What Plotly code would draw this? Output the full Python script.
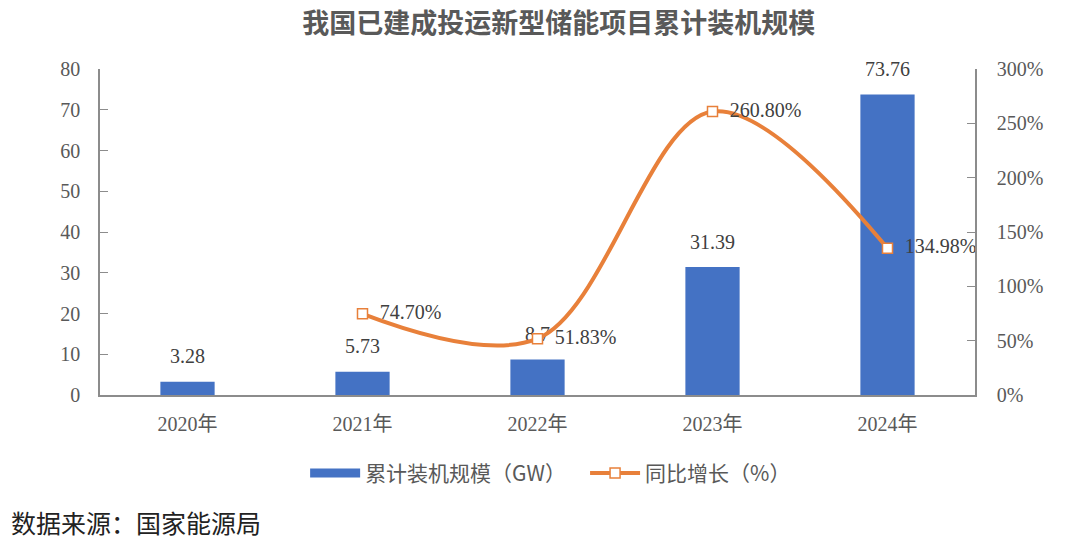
import plotly.graph_objects as go

# 数据
years = ["2020年", "2021年", "2022年", "2023年", "2024年"]
capacity_gw = [3.28, 5.73, 8.7, 31.39, 73.76]
capacity_labels = ["3.28", "5.73", "8.7", "31.39", "73.76"]

growth_years = ["2021年", "2022年", "2023年", "2024年"]
growth_pct = [74.70, 51.83, 260.80, 134.98]
growth_labels = ["74.70%", "51.83%", "260.80%", "134.98%"]

left_ticks = [0, 10, 20, 30, 40, 50, 60, 70, 80]
right_ticks = [0, 50, 100, 150, 200, 250, 300]
right_tick_labels = ["0%", "50%", "100%", "150%", "200%", "250%", "300%"]

BAR_COLOR = "#4472C4"
LINE_COLOR = "#E8803A"
AXIS_COLOR = "#8C8C8C"
TEXT_COLOR = "#595959"
SERIF = "Liberation Serif, Noto Sans CJK SC, serif"
CJK = "Noto Sans CJK SC"

fig = go.Figure()

# bars (legend handled by a dummy entry so the swatch is a wide bar)
fig.add_trace(go.Bar(
    x=years, y=capacity_gw, name="累计装机规模（GW）", showlegend=False,
    marker=dict(color=BAR_COLOR, line=dict(width=0)),
))
# bar value labels, lifted above bar tops
fig.add_trace(go.Scatter(
    x=years, y=capacity_gw, mode="markers+text", showlegend=False, hoverinfo="skip",
    marker=dict(size=20, opacity=0),
    text=capacity_labels, textposition="top center", cliponaxis=False,
    textfont=dict(family=SERIF, size=20, color="#404040"),
))

fig.add_trace(go.Scatter(
    x=[None], y=[None], mode="lines", name="累计装机规模（GW）   ",
    line=dict(color=BAR_COLOR, width=9),
))

fig.add_trace(go.Scatter(
    x=growth_years, y=growth_pct, name="同比增长（%）", yaxis="y2",
    mode="lines+markers+text",
    line=dict(color=LINE_COLOR, width=4, shape="spline", smoothing=1),
    marker=dict(symbol="square", size=10, color="white",
                line=dict(color=LINE_COLOR, width=1.5)),
    text=["  " + t for t in growth_labels], textposition="middle right",
    textfont=dict(family=SERIF, size=20, color="#404040"),
    cliponaxis=False,
))

fig.update_layout(
    width=1080, height=546,
    paper_bgcolor="white", plot_bgcolor="white",
    margin=dict(l=92, r=113, t=61, b=159),
    bargap=0.69,
    showlegend=True,
    legend=dict(orientation="h", x=0.515, xanchor="center", y=-0.24, yanchor="middle",
                font=dict(family=CJK, size=21, color=TEXT_COLOR),
                itemwidth=50),
    title=dict(text="<b>我国已建成投运新型储能项目累计装机规模</b>",
               x=0.51, xanchor="center", y=0.972, yanchor="middle",
               font=dict(family=CJK, size=27, color=TEXT_COLOR)),
    xaxis=dict(
        type="category", showline=True, linecolor=AXIS_COLOR, linewidth=1.5,
        ticks="", showgrid=False, ticklabelstandoff=10,
        tickfont=dict(family=SERIF, size=20, color=TEXT_COLOR),
    ),
    yaxis=dict(
        range=[0, 80], tickvals=left_ticks, showgrid=False, zeroline=False,
        showline=True, linecolor=AXIS_COLOR, linewidth=1.5,
        ticks="inside", ticklen=8, tickcolor=AXIS_COLOR,
        tickfont=dict(family=SERIF, size=20, color=TEXT_COLOR),
        ticklabelstandoff=14,
    ),
    yaxis2=dict(
        range=[0, 300], tickvals=right_ticks, ticktext=right_tick_labels,
        overlaying="y", side="right", showgrid=False, zeroline=False,
        showline=True, linecolor=AXIS_COLOR, linewidth=1.5,
        ticks="inside", ticklen=8, tickcolor=AXIS_COLOR,
        tickfont=dict(family=SERIF, size=20, color=TEXT_COLOR),
        ticklabelstandoff=16,
    ),
)

fig.add_annotation(
    text="数据来源：国家能源局", xref="paper", yref="paper",
    x=-91 / 875, xanchor="left", y=-0.39, yanchor="middle", showarrow=False,
    font=dict(family=CJK, size=25, color="#222222"),
)

fig.write_html("out.html")
